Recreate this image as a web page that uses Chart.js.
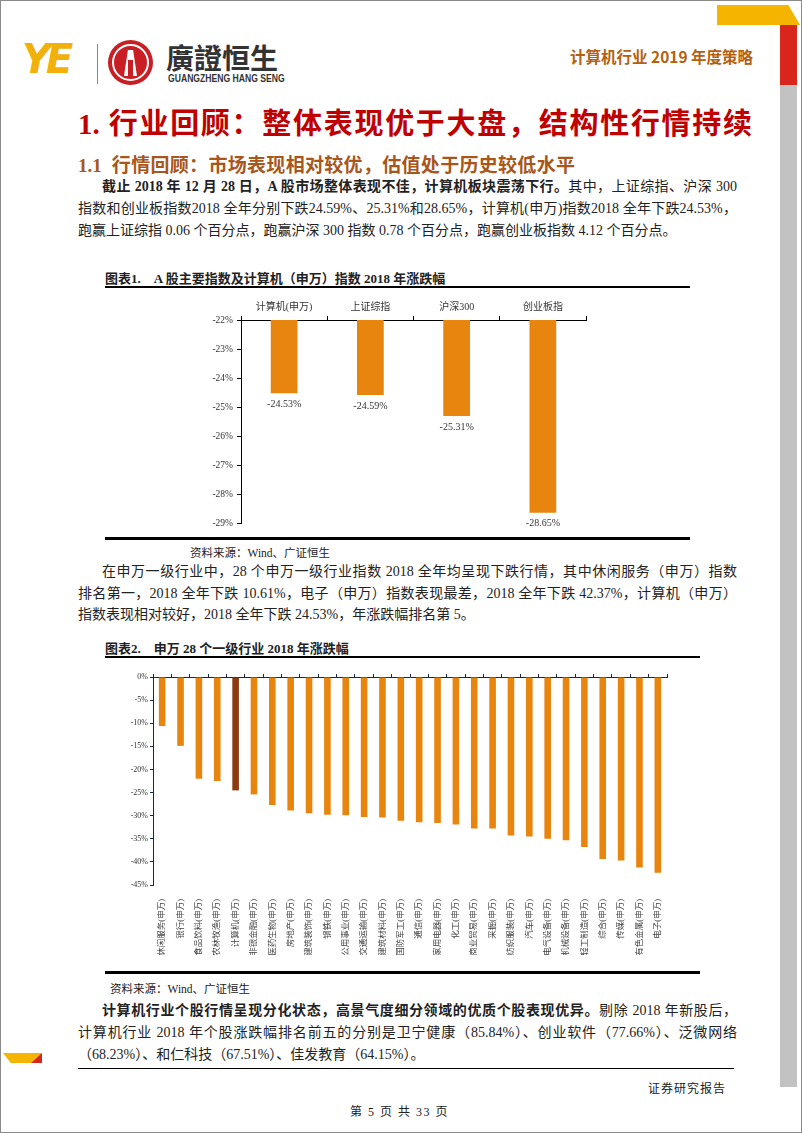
<!DOCTYPE html>
<html>
<head>
<meta charset="utf-8">
<script src="https://cdn.jsdelivr.net/npm/chart.js@4.4.1/dist/chart.umd.min.js"></script>
<style>
  html, body { margin: 0; padding: 0; background: #fff; }
  body { width: 802px; height: 1133px; position: relative; overflow: hidden;
         font-family: "Liberation Serif", "Noto Sans CJK SC", serif; color: #222; }
  .page { position: absolute; left: 0; top: 0; width: 802px; height: 1133px;
          box-sizing: border-box; border: 1px solid #8a8a8a; }
  .abs { position: absolute; white-space: nowrap; }
  .line { position: absolute; font-size: 14px; line-height: 18px; white-space: nowrap; }
  .just { text-align: justify; text-align-last: justify; }
  .line b { font-weight: bold; }
  .rule { position: absolute; background: #000; }
  .ctitle { position: absolute; font-size: 13px; font-weight: bold; white-space: nowrap; }
  .src { position: absolute; font-size: 11.5px; white-space: nowrap; color: #222; }
</style>
</head>
<body>
<div class="page"></div>

<!-- header decorations -->
<div class="abs" style="left:717px;top:5px;width:83px;height:20px;background:#F4B400;clip-path:polygon(0 0,86% 0,100% 100%,0 100%);"></div>
<div class="abs" style="left:780px;top:25px;width:17px;height:60px;background:#D9261C;"></div>
<div class="abs" style="left:780px;top:85px;width:17px;height:1002px;background:#C2C2C2;"></div>
<div class="abs" style="left:3px;top:1053px;width:39px;height:10px;background:#F4B400;clip-path:polygon(0 0,100% 0,100% 100%,20% 100%);"></div>
<div class="abs" style="left:3px;top:1053px;width:39px;height:10px;background:#D9261C;clip-path:polygon(100% 0,100% 100%,72% 100%);"></div>

<!-- logo -->
<div class="abs" style="left:22px;top:36px;font-family:'DejaVu Sans';font-weight:bold;font-style:italic;font-size:40px;letter-spacing:-5px;color:#F2B10A;">YE</div>
<div class="abs" style="left:97px;top:44px;width:1px;height:40px;background:#888;"></div>
<div class="abs" style="left:108px;top:40px;width:45px;height:45px;border-radius:50%;background:#C81E24;"></div>
<div class="abs" style="left:112px;top:44px;width:33px;height:33px;border-radius:50%;border:2px solid #fff;"></div>
<div class="abs" style="left:124px;top:50px;width:13px;height:26px;background:#fff;clip-path:polygon(30% 0,70% 0,100% 100%,0 100%);"></div>
<div class="abs" style="left:128px;top:60px;width:5px;height:16px;background:#C81E24;"></div>
<div class="abs" style="left:166px;top:37px;font-family:'Noto Sans CJK TC';font-weight:bold;font-size:28px;color:#333;">廣證恒生</div>
<div class="abs" style="left:168px;top:72px;font-family:'Liberation Sans';font-weight:bold;font-size:10.5px;color:#333;transform:scaleX(0.82);transform-origin:left top;">GUANGZHENG HANG SENG</div>
<div class="abs" style="left:570px;top:45px;font-family:'Noto Sans CJK SC';font-weight:bold;font-size:15.5px;color:#B5600E;">计算机行业 2019 年度策略</div>

<!-- headings -->
<div class="abs" style="left:78px;top:100px;width:674px;font-family:'Liberation Serif','Noto Sans CJK SC';font-weight:bold;font-size:29px;color:#C00000;text-align:justify;text-align-last:justify;">1. 行业回顾：整体表现优于大盘，结构性行情持续</div>
<div class="abs" style="left:78px;top:150px;width:497px;font-family:'Liberation Serif','Noto Sans CJK SC';font-weight:bold;font-size:19px;color:#A8561A;text-align:justify;text-align-last:justify;">1.1&nbsp; 行情回顾：市场表现相对较优，估值处于历史较低水平</div>

<!-- paragraph 1 -->
<div class="line just" style="left:102px;top:178px;width:635px;"><b>截止 2018 年 12 月 28 日，A 股市场整体表现不佳，计算机板块震荡下行。</b>其中，上证综指、沪深 300</div>
<div class="line just" style="left:78px;top:200px;width:659px;">指数和创业板指数2018 全年分别下跌24.59%、25.31%和28.65%，计算机(申万)指数2018 全年下跌24.53%，</div>
<div class="line" style="left:78px;top:222px;">跑赢上证综指 0.06 个百分点，跑赢沪深 300 指数 0.78 个百分点，跑赢创业板指数 4.12 个百分点。</div>

<!-- chart 1 -->
<div class="ctitle" style="left:105px;top:268px;">图表1.&nbsp;&nbsp;&nbsp; A 股主要指数及计算机（申万）指数 2018 年涨跌幅</div>
<div class="rule" style="left:105px;top:286px;width:585px;height:2px;"></div>
<canvas id="chartIndex" class="abs" style="left:190px;top:295px;" width="410" height="240"></canvas>
<div class="rule" style="left:105px;top:537px;width:585px;height:3px;"></div>
<div class="src" style="left:190px;top:544px;">资料来源：Wind、广证恒生</div>

<!-- paragraph 2 -->
<div class="line just" style="left:102px;top:563px;width:635px;">在申万一级行业中，28 个申万一级行业指数 2018 全年均呈现下跌行情，其中休闲服务（申万）指数</div>
<div class="line just" style="left:78px;top:585px;width:659px;">排名第一，2018 全年下跌 10.61%，电子（申万）指数表现最差，2018 全年下跌 42.37%，计算机（申万）</div>
<div class="line" style="left:78px;top:606px;">指数表现相对较好，2018 全年下跌 24.53%，年涨跌幅排名第 5。</div>

<!-- chart 2 -->
<div class="ctitle" style="left:105px;top:638px;">图表2.&nbsp;&nbsp;&nbsp; 申万 28 个一级行业 2018 年涨跌幅</div>
<div class="rule" style="left:105px;top:656px;width:595px;height:2px;"></div>
<canvas id="chartIndustry" class="abs" style="left:95px;top:665px;" width="600" height="300"></canvas>
<div class="rule" style="left:105px;top:971px;width:595px;height:3px;"></div>
<div class="src" style="left:110px;top:980px;">资料来源：Wind、广证恒生</div>

<!-- paragraph 3 -->
<div class="line just" style="left:102px;top:1002px;width:635px;"><b>计算机行业个股行情呈现分化状态，高景气度细分领域的优质个股表现优异。</b>剔除 2018 年新股后，</div>
<div class="line just" style="left:78px;top:1024px;width:659px;">计算机行业 2018 年个股涨跌幅排名前五的分别是卫宁健康（85.84%）、创业软件（77.66%）、泛微网络</div>
<div class="line" style="left:78px;top:1046px;">（68.23%）、和仁科技（67.51%）、佳发教育（64.15%）。</div>
<div class="rule" style="left:78px;top:1068px;width:656px;height:1px;"></div>
<div class="abs" style="left:648px;top:1079px;font-size:12px;letter-spacing:1px;">证券研究报告</div>
<div class="abs" style="left:350px;top:1102px;font-size:12px;letter-spacing:1.5px;">第 5 页 共 33 页</div>

<script>
// 图表1：A股主要指数及计算机（申万）指数 2018 年涨跌幅
const indexLabels = ['计算机(申万)', '上证综指', '沪深300', '创业板指'];
const indexChanges = [-24.53, -24.59, -25.31, -28.65];

// 图表2：申万 28 个一级行业 2018 年涨跌幅
const industryLabels = ['休闲服务(申万)', '银行(申万)', '食品饮料(申万)', '农林牧渔(申万)', '计算机(申万)',
  '非银金融(申万)', '医药生物(申万)', '房地产(申万)', '建筑装饰(申万)', '钢铁(申万)', '公用事业(申万)',
  '交通运输(申万)', '建筑材料(申万)', '国防军工(申万)', '通信(申万)', '家用电器(申万)', '化工(申万)',
  '商业贸易(申万)', '采掘(申万)', '纺织服装(申万)', '汽车(申万)', '电气设备(申万)', '机械设备(申万)',
  '轻工制造(申万)', '综合(申万)', '传媒(申万)', '有色金属(申万)', '电子(申万)'];
const industryChanges = [-10.61, -14.9, -22.0, -22.5, -24.53, -25.4, -27.7, -28.9, -29.5, -29.8, -29.9,
  -30.3, -30.4, -31.1, -31.4, -31.6, -31.9, -32.8, -32.8, -34.3, -34.5, -35.0, -35.3,
  -36.8, -39.4, -39.7, -41.2, -42.37];
const highlightLabel = '计算机(申万)';

const ORANGE = '#E8850F';
const BROWN = '#8B3A0F';
const FONT = "'Liberation Serif', 'Noto Sans CJK SC', serif";

const pct = v => v + '%';

// 柱下方数值标签
const barValueLabels = {
  id: 'barValueLabels',
  afterDatasetsDraw(chart) {
    const { ctx } = chart;
    const meta = chart.getDatasetMeta(0);
    ctx.save();
    ctx.fillStyle = '#333';
    ctx.font = '10px ' + FONT;
    ctx.textAlign = 'center';
    ctx.textBaseline = 'top';
    meta.data.forEach((bar, i) => {
      ctx.fillText(chart.data.datasets[0].data[i].toFixed(2) + '%', bar.x, bar.y + 6);
    });
    ctx.restore();
  }
};

new Chart(document.getElementById('chartIndex'), {
  type: 'bar',
  data: {
    labels: indexLabels,
    datasets: [{ data: indexChanges, backgroundColor: ORANGE, barPercentage: 0.31, categoryPercentage: 1 }]
  },
  options: {
    responsive: false,
    animation: false,
    layout: { padding: { left: 0, right: 14, top: 0, bottom: 12 } },
    plugins: { legend: { display: false }, tooltip: { enabled: false } },
    scales: {
      x: {
        position: 'top',
        afterFit: s => { s.height = 25; },
        border: { display: true, color: '#000', width: 1 },
        grid: { drawOnChartArea: false, drawTicks: true, tickLength: 4, color: '#000', offset: true },
        ticks: { color: '#333', font: { family: FONT, size: 10 }, padding: 3, maxRotation: 0 }
      },
      y: {
        min: -29, max: -22,
        afterFit: s => { s.width = 51; },
        border: { display: true, color: '#000', width: 1 },
        grid: { drawOnChartArea: false, drawTicks: true, tickLength: 4, color: '#000' },
        ticks: { stepSize: 1, callback: pct, color: '#333', font: { family: FONT, size: 9.5 }, padding: 4 }
      }
    }
  },
  plugins: [barValueLabels]
});

new Chart(document.getElementById('chartIndustry'), {
  type: 'bar',
  data: {
    labels: industryLabels,
    datasets: [{
      data: industryChanges,
      backgroundColor: industryLabels.map(l => l === highlightLabel ? BROWN : ORANGE),
      barPercentage: 0.36, categoryPercentage: 1
    }]
  },
  options: {
    responsive: false,
    animation: false,
    layout: { padding: { left: 0, right: 28, top: 0, bottom: 10 } },
    plugins: { legend: { display: false }, tooltip: { enabled: false } },
    scales: {
      x: {
        position: 'bottom',
        afterFit: s => { s.height = 70; },
        border: { display: false },
        grid: { display: false },
        ticks: { autoSkip: false, minRotation: 90, maxRotation: 90, padding: 6,
                 color: '#444', font: { family: FONT, size: 8.5 } }
      },
      x2: {
        type: 'category',
        labels: industryLabels,
        position: 'top',
        afterFit: s => { s.height = 12; },
        border: { display: true, color: '#1d2540', width: 1 },
        grid: { drawOnChartArea: false, drawTicks: true, tickLength: 3, color: '#1d2540', offset: true },
        ticks: { display: false }
      },
      y: {
        min: -45, max: 0,
        afterFit: s => { s.width = 58; },
        border: { display: true, color: '#1d2540', width: 1 },
        grid: { drawOnChartArea: false, drawTicks: true, tickLength: 3, color: '#1d2540' },
        ticks: { stepSize: 5, callback: pct, color: '#333', font: { family: FONT, size: 8 }, padding: 2 }
      }
    }
  }
});
</script>
</body>
</html>
